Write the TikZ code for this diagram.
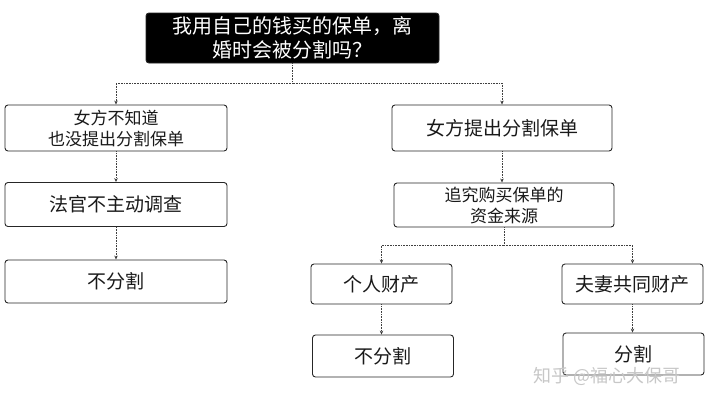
\documentclass[tikz,border=0pt]{standalone}
\usepackage{fontspec}
\newfontfamily\cjk{Noto Sans CJK SC}
\usetikzlibrary{arrows.meta}
\begin{document}
\begin{tikzpicture}[x=1pt,y=-1pt,
  box/.style={draw=black!85,line width=0.9pt,rounded corners=3pt,fill=white,
    align=center,inner sep=0pt,font=\cjk\fontsize{19}{22}\selectfont,text=black!90},
  twoline/.style={font=\cjk\fontsize{17}{21}\selectfont},
  dark/.style={box,fill=black,text=white,font=\cjk\fontsize{20}{24}\selectfont},
  link/.style={draw=black!75,line width=0.6pt,densely dotted},
  conn/.style={link,-{Stealth[length=4pt,width=3.5pt]}}]
\useasboundingbox (0,0) rectangle (711,400);
\node[dark,minimum width=293pt,minimum height=50pt] (top) at (292.5,38) {我用自己的钱买的保单，离\\婚时会被分割吗？};
\node[box,twoline,minimum width=222pt,minimum height=46pt] (L1) at (116,128) {女方不知道\\也没提出分割保单};
\node[box,minimum width=220pt,minimum height=46pt] (R1) at (502,128) {女方提出分割保单};
\node[box,minimum width=222pt,minimum height=44pt] (L2) at (116,204.5) {法官不主动调查};
\node[box,twoline,minimum width=220pt,minimum height=44pt] (R2) at (504,205) {追究购买保单的\\资金来源};
\node[box,minimum width=222pt,minimum height=43pt] (L3) at (116,281.5) {不分割};
\node[box,minimum width=141pt,minimum height=40pt] (P) at (381.5,284) {个人财产};
\node[box,minimum width=141pt,minimum height=40pt] (J) at (632.5,284) {夫妻共同财产};
\node[box,minimum width=141pt,minimum height=42pt] (PN) at (383,356) {不分割};
\node[box,minimum width=141pt,minimum height=42pt] (JS) at (633.5,354) {分割};
\node[text=black!22,font=\cjk\fontsize{18}{22}\selectfont,inner sep=0pt] (wm) at (607,376) {知乎 @福心大保哥};
\coordinate (j1) at (292.5,83);
\coordinate (j2) at (504,245);
\draw[link] (top.south) -- (j1);
\draw[conn] (j1) -| (L1.north);
\draw[conn] (j1) -| (R1.north);
\draw[conn] (L1.south) -- (L2.north);
\draw[conn] (R1.south) -- (R1.south |- R2.north);
\draw[conn] (L2.south) -- (L3.north);
\draw[link] (R2.south) -- (j2);
\draw[conn] (j2) -| (P.north);
\draw[conn] (j2) -| (J.north);
\draw[conn] (P.south) -- (P.south |- PN.north);
\draw[conn] (J.south) -- (J.south |- JS.north);
\end{tikzpicture}
\end{document}
